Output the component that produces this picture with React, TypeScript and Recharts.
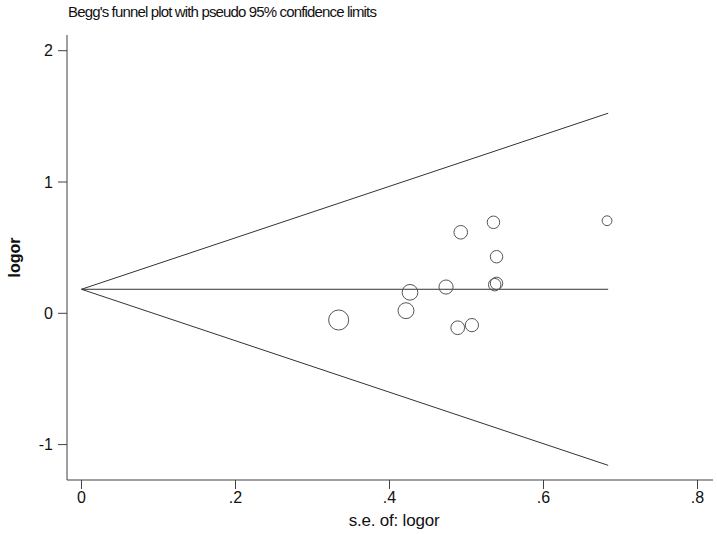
import React from "react";
import { ScatterChart, Scatter, XAxis, YAxis } from "recharts";

// study standard errors and log odds ratios
const studySe = [0.334, 0.4266, 0.4214, 0.4734, 0.4925, 0.4886, 0.507, 0.535, 0.539, 0.5366, 0.539, 0.6825];
const studyLogor = [-0.051, 0.16, 0.02, 0.2, 0.617, -0.11, -0.09, 0.693, 0.431, 0.218, 0.228, 0.705];

// funnel: pooled estimate line and pseudo 95% limits (start and end points)
const funnelSe = [0, 0.684];
const pooledLine = [0.183, 0.183];
const upperLimit = [0.183, 1.524];
const lowerLimit = [0.183, -1.158];

const xTicks = [0, 0.2, 0.4, 0.6, 0.8];
const yTicks = [-1, 0, 1, 2];

const studies = studySe.map((se, i) => ({ se, logor: studyLogor[i] }));
const toLine = (vals: number[]) => funnelSe.map((se, i) => ({ se, logor: vals[i] }));

const FONT = "'Liberation Sans', Arial, sans-serif";
const AXIS = "#404040";

const fmtX = (v: number) => (v === 0 ? "0" : String(v).replace(/^0/, ""));

// circle size follows study weight (1/se)
const StudyCircle = (props: any) => {
  const { cx, cy, payload } = props;
  return <circle cx={cx} cy={cy} r={3.35 / payload.se} fill="none" stroke="#555" strokeWidth={1} />;
};

const NoDot = () => <g />;

const YLabel = ({ viewBox }: any) => {
  const x = viewBox.x + 14;
  const y = viewBox.y + viewBox.height / 2;
  return (
    <text x={x} y={y} transform={`rotate(-90, ${x}, ${y})`} textAnchor="middle" dominantBaseline="central"
      fontFamily={FONT} fontSize={16} fill="#111" fontWeight={600}>
      logor
    </text>
  );
};

const XLabel = ({ viewBox }: any) => (
  <text x={viewBox.x + viewBox.width / 2 + 4} y={viewBox.y + viewBox.height - 14} textAnchor="middle"
    dominantBaseline="central" fontFamily={FONT} fontSize={17} fill="#111" letterSpacing={-0.2}>
    s.e. of: logor
  </text>
);

export default function App() {
  return (
    <div style={{ position: "absolute", left: 0, top: 0, width: 717, height: 534, background: "#fff" }}>
      <div style={{ position: "absolute", left: 68, top: 3, fontFamily: FONT, fontSize: 15, color: "#111", letterSpacing: -0.85, whiteSpace: "nowrap" }}>
        Begg's funnel plot with pseudo 95% confidence limits
      </div>
      <ScatterChart width={717} height={534} margin={{ top: 35, right: 4, bottom: 0, left: 0 }}>
        <XAxis
          type="number"
          dataKey="se"
          domain={[-0.0188, 0.8201]}
          ticks={xTicks}
          tickFormatter={fmtX}
          allowDataOverflow
          height={54}
          tickSize={9}
          tickMargin={3}
          stroke={AXIS}
          tick={{ fill: "#111", fontFamily: FONT, fontSize: 16 }}
          label={<XLabel />}
        />
        <YAxis
          type="number"
          dataKey="logor"
          domain={[-1.2696, 2.1196]}
          ticks={yTicks}
          allowDataOverflow
          width={67}
          tickSize={9}
          tickMargin={5}
          stroke={AXIS}
          tick={{ fill: "#111", fontFamily: FONT, fontSize: 16 }}
          label={<YLabel />}
        />
        <Scatter data={toLine(upperLimit)} line={{ stroke: "#333", strokeWidth: 1 }} shape={NoDot} isAnimationActive={false} />
        <Scatter data={toLine(pooledLine)} line={{ stroke: "#333", strokeWidth: 1 }} shape={NoDot} isAnimationActive={false} />
        <Scatter data={toLine(lowerLimit)} line={{ stroke: "#333", strokeWidth: 1 }} shape={NoDot} isAnimationActive={false} />
        <Scatter data={studies} shape={StudyCircle} isAnimationActive={false} />
      </ScatterChart>
    </div>
  );
}
